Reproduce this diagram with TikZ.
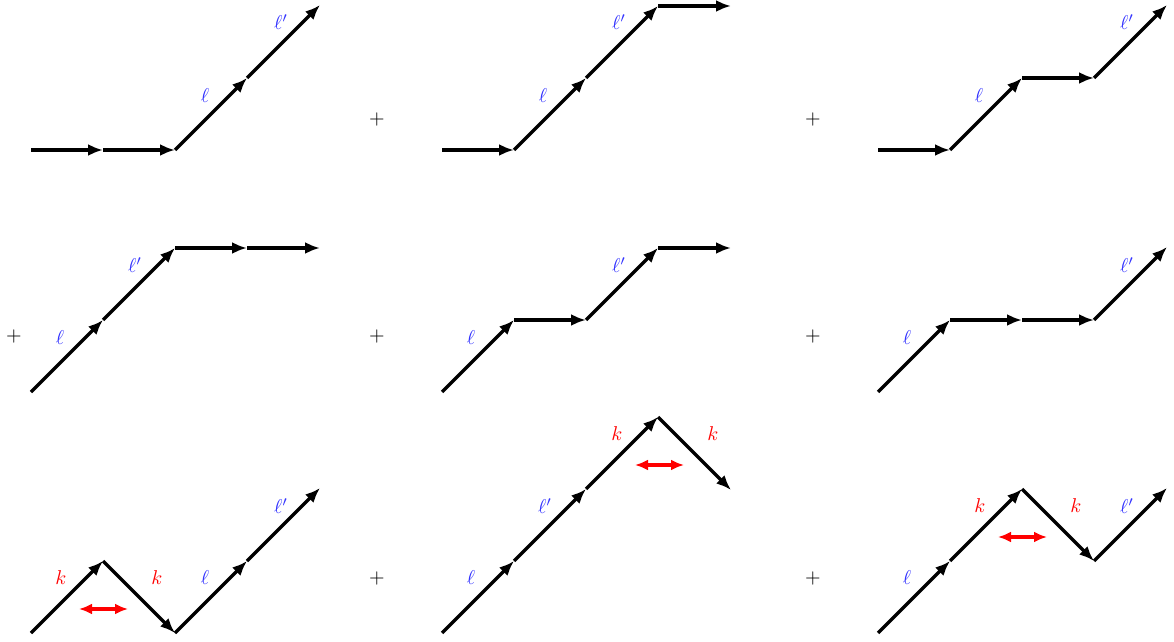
\documentclass[tikz,border=0pt]{standalone}
\usetikzlibrary{arrows.meta}
\begin{document}
\begin{tikzpicture}[x=0.5pt,y=-0.5pt,
 seg/.style={line width=1.65pt,-{Latex[length=7.5pt,width=6pt]}},
 lbl/.style={text=blue!80, inner sep=0pt},
 klbl/.style={text=red, inner sep=0pt},
 swp/.style={red,line width=2.2pt,{Latex[length=6.5pt,width=5.5pt]}-{Latex[length=6.5pt,width=5.5pt]}},
 plus/.style={inner sep=0pt}]
\useasboundingbox (0,0) rectangle (1174,642);
% ---- Panel A
\coordinate (a0) at (31,150); \coordinate (a1) at (103,150); \coordinate (a2) at (175,150);
\coordinate (a3) at (247,78); \coordinate (a4) at (320,5);
\draw[seg] (a0)--(a1); \draw[seg] (a1)--(a2); \draw[seg] (a2)--(a3); \draw[seg] (a3)--(a4);
\node[lbl] (la1) at (205,96) {$\ell$}; \node[lbl] (la2) at (281,22) {$\ell'$};
\node[plus] (p1) at (377,120) {$+$};
% ---- Panel B
\coordinate (b0) at (442,150); \coordinate (b1) at (514,150); \coordinate (b2) at (586,78);
\coordinate (b3) at (658,6); \coordinate (b4) at (731,6);
\draw[seg] (b0)--(b1); \draw[seg] (b1)--(b2); \draw[seg] (b2)--(b3); \draw[seg] (b3)--(b4);
\node[lbl] (lb1) at (543,96) {$\ell$}; \node[lbl] (lb2) at (619,22) {$\ell'$};
\node[plus] (p2) at (813,120) {$+$};
% ---- Panel C
\coordinate (c0) at (878,150); \coordinate (c1) at (950,150); \coordinate (c2) at (1022,78);
\coordinate (c3) at (1094,78); \coordinate (c4) at (1167,5);
\draw[seg] (c0)--(c1); \draw[seg] (c1)--(c2); \draw[seg] (c2)--(c3); \draw[seg] (c3)--(c4);
\node[lbl] (lc1) at (979,96) {$\ell$}; \node[lbl] (lc2) at (1127,22) {$\ell'$};
% ---- Panel D
\node[plus] (p3) at (14,337) {$+$};
\coordinate (d0) at (31,392); \coordinate (d1) at (103,320); \coordinate (d2) at (175,248);
\coordinate (d3) at (247,248); \coordinate (d4) at (320,248);
\draw[seg] (d0)--(d1); \draw[seg] (d1)--(d2); \draw[seg] (d2)--(d3); \draw[seg] (d3)--(d4);
\node[lbl] (ld1) at (60,338) {$\ell$}; \node[lbl] (ld2) at (135,265) {$\ell'$};
% ---- Panel E
\node[plus] (p4) at (377,337) {$+$};
\coordinate (e0) at (442,392); \coordinate (e1) at (514,320); \coordinate (e2) at (586,320);
\coordinate (e3) at (658,248); \coordinate (e4) at (731,248);
\draw[seg] (e0)--(e1); \draw[seg] (e1)--(e2); \draw[seg] (e2)--(e3); \draw[seg] (e3)--(e4);
\node[lbl] (le1) at (471,338) {$\ell$}; \node[lbl] (le2) at (619,265) {$\ell'$};
% ---- Panel F
\node[plus] (p5) at (813,337) {$+$};
\coordinate (f0) at (878,392); \coordinate (f1) at (950,320); \coordinate (f2) at (1022,320);
\coordinate (f3) at (1094,320); \coordinate (f4) at (1167,247);
\draw[seg] (f0)--(f1); \draw[seg] (f1)--(f2); \draw[seg] (f2)--(f3); \draw[seg] (f3)--(f4);
\node[lbl] (lf1) at (907,338) {$\ell$}; \node[lbl] (lf2) at (1127,265) {$\ell'$};
% ---- Panel G
\coordinate (g0) at (31,633); \coordinate (g1) at (103,561); \coordinate (g2) at (175,633);
\coordinate (g3) at (247,561); \coordinate (g4) at (320,488);
\draw[seg] (g0)--(g1); \draw[seg] (g1)--(g2); \draw[seg] (g2)--(g3); \draw[seg] (g3)--(g4);
\node[klbl] (kg1) at (61,578) {$k$}; \node[klbl] (kg2) at (157,578) {$k$};
\node[lbl] (lg1) at (205,578) {$\ell$}; \node[lbl] (lg2) at (281,506) {$\ell'$};
\coordinate (sg0) at (79,609); \coordinate (sg1) at (128,609);
\draw[swp] (sg0)--(sg1);
% ---- Panel H
\node[plus] (p6) at (377,578) {$+$};
\coordinate (h0) at (442,633); \coordinate (h1) at (514,561); \coordinate (h2) at (586,489);
\coordinate (h3) at (658,417); \coordinate (h4) at (731,490);
\draw[seg] (h0)--(h1); \draw[seg] (h1)--(h2); \draw[seg] (h2)--(h3); \draw[seg] (h3)--(h4);
\node[lbl] (lh1) at (471,578) {$\ell$}; \node[lbl] (lh2) at (545,506) {$\ell'$};
\node[klbl] (kh1) at (617,434) {$k$}; \node[klbl] (kh2) at (713,434) {$k$};
\coordinate (sh0) at (635,465); \coordinate (sh1) at (684,465);
\draw[swp] (sh0)--(sh1);
% ---- Panel I
\node[plus] (p7) at (813,578) {$+$};
\coordinate (i0) at (878,633); \coordinate (i1) at (950,561); \coordinate (i2) at (1022,489);
\coordinate (i3) at (1094,561); \coordinate (i4) at (1167,488);
\draw[seg] (i0)--(i1); \draw[seg] (i1)--(i2); \draw[seg] (i2)--(i3); \draw[seg] (i3)--(i4);
\node[lbl] (li1) at (907,578) {$\ell$}; \node[klbl] (ki1) at (980,506) {$k$};
\node[klbl] (ki2) at (1076,506) {$k$}; \node[lbl] (li2) at (1127,506) {$\ell'$};
\coordinate (si0) at (998,537); \coordinate (si1) at (1047,537);
\draw[swp] (si0)--(si1);
\end{tikzpicture}
\end{document}
